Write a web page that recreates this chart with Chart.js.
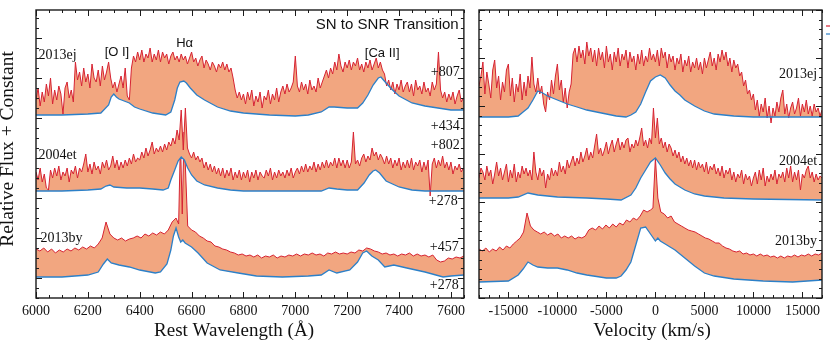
<!DOCTYPE html>
<html><head><meta charset="utf-8">
<script src="https://cdn.jsdelivr.net/npm/chart.js@4.4.1/dist/chart.umd.min.js"></script>
<style>
html,body{margin:0;padding:0;background:#fff;}
#wrap{position:relative;width:830px;height:348px;overflow:hidden;background:#fff;}
canvas{position:absolute;top:0;}
#cl{left:0;} #cr{left:470px;}
</style></head><body>
<div id="wrap"><canvas id="cl" width="470" height="348"></canvas><canvas id="cr" width="360" height="348"></canvas></div>
<script>
// ---------- LEFT PANEL: rest wavelength (Angstrom) ----------
const wavelengthTicks = [6000, 6200, 6400, 6600, 6800, 7000, 7200, 7400, 7600];
const velocityTicks = [-15000, -10000, -5000, 0, 5000, 10000, 15000];

// fine wavelength grid (8 A) for the noisy late-time spectra of 2013ej and 2004et
const waveFine = [
6000,6008,6016,6024,6032,6040,6048,6056,6064,6072,
6080,6088,6096,6104,6112,6120,6128,6136,6144,6152,
6160,6168,6176,6184,6192,6200,6208,6216,6224,6232,
6240,6248,6256,6264,6272,6280,6288,6296,6304,6312,
6320,6328,6336,6344,6352,6360,6368,6376,6384,6392,
6400,6408,6416,6424,6432,6440,6448,6456,6464,6472,
6480,6488,6496,6504,6512,6520,6528,6536,6544,6552,
6560,6568,6576,6584,6592,6600,6608,6616,6624,6632,
6640,6648,6656,6664,6672,6680,6688,6696,6704,6712,
6720,6728,6736,6744,6752,6760,6768,6776,6784,6792,
6800,6808,6816,6824,6832,6840,6848,6856,6864,6872,
6880,6888,6896,6904,6912,6920,6928,6936,6944,6952,
6960,6968,6976,6984,6992,7000,7008,7016,7024,7032,
7040,7048,7056,7064,7072,7080,7088,7096,7104,7112,
7120,7128,7136,7144,7152,7160,7168,7176,7184,7192,
7200,7208,7216,7224,7232,7240,7248,7256,7264,7272,
7280,7288,7296,7304,7312,7320,7328,7336,7344,7352,
7360,7368,7376,7384,7392,7400,7408,7416,7424,7432,
7440,7448,7456,7464,7472,7480,7488,7496,7504,7512,
7520,7528,7536,7544,7552,7560,7568,7576,7584,7592,
7600,7608,7616,7624,7632,7640,7648];
const sn2013ej_807 = [
218,230,212,226,216,234,222,240,214,228,
218,232,224,204,230,236,220,228,216,256,
238,246,232,250,236,244,230,254,240,236,
248,232,252,238,246,256,240,230,236,226,
234,242,230,250,222,218,250,262,256,266,
258,268,256,264,260,270,256,264,258,268,
256,266,260,264,254,262,266,258,262,256,
264,258,262,254,260,266,256,260,252,258,
262,250,258,254,248,256,252,246,254,250,
256,248,254,246,250,240,228,220,226,218,
224,214,226,218,228,212,222,216,226,210,
222,218,228,214,224,218,230,216,226,232,
224,234,226,230,236,262,232,226,236,228,
234,224,238,228,232,226,240,230,236,242,
248,240,250,244,256,248,264,252,246,256,
250,258,248,256,252,260,248,254,246,256,
250,258,248,254,260,250,256,248,244,232,
238,228,236,224,234,228,238,226,232,236,
226,234,222,238,228,232,224,236,226,230,
222,236,228,234,266,228,220,226,216,224,
218,226,214,222,228,216,220];
const sn2004et_802 = [
146,138,150,136,144,130,128,148,140,150,
142,152,138,146,142,150,136,148,144,152,
140,150,146,154,164,146,154,144,156,148,
152,144,156,150,158,148,152,162,150,158,
148,156,150,158,152,160,154,164,156,160,
158,166,160,170,162,168,176,164,170,166,
172,166,174,168,176,172,180,174,188,178,
208,168,210,170,164,160,166,158,162,156,
160,150,156,148,154,146,152,144,150,142,
150,140,148,142,150,138,146,140,148,138,
146,140,148,136,146,140,148,138,146,142,
140,148,142,150,138,146,140,148,142,146,
140,148,142,150,140,146,150,144,152,146,
154,146,152,148,156,146,154,148,156,150,
158,150,156,152,160,150,160,152,158,150,
158,150,156,186,154,158,152,160,164,156,
162,158,170,162,166,158,164,160,154,162,
154,160,150,158,152,160,148,156,150,158,
150,160,148,156,152,158,146,156,148,158,
122,154,160,150,158,152,162,150,156,148,
156,144,152,148,154,146,150];

// 15 A grid for the smoother 2013by late-time spectrum
const waveCoarse = [
6000,6015,6030,6045,6060,6075,6090,6105,6120,6135,
6150,6165,6180,6195,6210,6225,6240,6255,6270,6285,
6300,6315,6330,6345,6360,6375,6390,6405,6420,6435,
6450,6465,6480,6495,6510,6525,6540,6550,6557,6564,
6571,6585,6600,6615,6630,6645,6660,6675,6690,6705,
6720,6735,6750,6765,6780,6795,6810,6825,6840,6855,
6870,6885,6900,6915,6930,6945,6960,6975,6990,7005,
7020,7035,7050,7065,7080,7095,7110,7125,7140,7155,
7170,7185,7200,7215,7230,7245,7260,7275,7290,7305,
7320,7335,7350,7365,7380,7395,7410,7425,7440,7455,
7470,7485,7500,7515,7530,7545,7560,7575,7590,7605,
7620,7635,7650];
const sn2013by_457 = [
69,67,70,66,69,65,68,66,69,67,
70,68,71,69,72,70,74,80,96,84,
80,78,80,77,79,80,82,80,84,82,
85,83,86,84,88,96,100,94,178,104,
186,92,88,86,82,80,77,76,72,71,
69,68,66,65,63,64,62,63,61,63,
60,62,61,63,60,62,61,63,62,64,
62,64,63,65,63,64,62,65,64,66,
64,65,64,66,65,68,67,70,69,67,
66,64,65,63,64,62,64,63,65,62,
64,62,63,61,63,58,56,57,60,59,
61,60,62];

// earlier-epoch spectra (blue)
const sn2013ej_434_wave = [6000,6100,6200,6250,6280,6290,6300,6310,6320,6340,6360,6380,6400,6450,6500,6520,6535,6545,6555,6570,6580,6595,6620,6650,6700,6750,6800,6900,7000,7050,7100,7130,7150,7200,7240,7260,7280,7300,7320,7330,7350,7375,7400,7450,7500,7550,7600,7650];
const sn2013ej_434 = [203,203,204,205,213,221,224,221,219,217,215,211,209,205,203,206,218,230,236,237,235,230,223,218,211,207,205,203,202,203,206,211,211,210,210,215,223,233,240,241,235,228,222,215,212,210,208,208];
const sn2004et_278_wave = [6000,6100,6200,6250,6270,6285,6300,6350,6400,6450,6490,6510,6520,6535,6548,6560,6572,6585,6600,6620,6650,6700,6750,6800,6900,7000,7100,7130,7160,7200,7240,7265,7285,7300,7310,7325,7350,7400,7450,7500,7650];
const sn2004et_278 = [127,127,128,129,132,133,131,130,130,129,128,130,138,148,157,161,158,150,143,137,133,130,128,127,127,127,127,130,129,128,128,135,143,147,148,145,137,131,128,127,127];
const sn2013by_278_wave = [6000,6100,6200,6240,6260,6275,6290,6320,6360,6400,6460,6480,6505,6520,6530,6540,6550,6558,6566,6575,6600,6625,6660,6710,6780,6850,6950,7050,7100,7130,7160,7210,7240,7260,7275,7295,7320,7345,7380,7430,7500,7570,7600,7650];
const sn2013by_278 = [41,41,43,46,54,59,55,53,51,48,45,46,54,68,82,90,81,76,78,75,71,65,55,48,45,42,41,42,43,48,45,48,56,65,67,62,58,51,53,50,46,41,42,43];

// ---------- RIGHT PANEL: velocity (km/s) relative to H-alpha ----------
const velFine = [
-18000,-17800,-17600,-17400,-17200,-17000,-16800,-16600,-16400,-16200,
-16000,-15800,-15600,-15400,-15200,-15000,-14800,-14600,-14400,-14200,
-14000,-13800,-13600,-13400,-13200,-13000,-12800,-12600,-12400,-12200,
-12000,-11800,-11600,-11400,-11200,-11000,-10800,-10600,-10400,-10200,
-10000,-9800,-9600,-9400,-9200,-9000,-8800,-8600,-8400,-8200,
-8000,-7800,-7600,-7400,-7200,-7000,-6800,-6600,-6400,-6200,
-6000,-5800,-5600,-5400,-5200,-5000,-4800,-4600,-4400,-4200,
-4000,-3800,-3600,-3400,-3200,-3000,-2800,-2600,-2400,-2200,
-2000,-1800,-1600,-1400,-1200,-1000,-800,-600,-400,-200,
0,200,400,600,800,1000,1200,1400,1600,1800,
2000,2200,2400,2600,2800,3000,3200,3400,3600,3800,
4000,4200,4400,4600,4800,5000,5200,5400,5600,5800,
6000,6200,6400,6600,6800,7000,7200,7400,7600,7800,
8000,8200,8400,8600,8800,9000,9200,9400,9600,9800,
10000,10200,10400,10600,10800,11000,11200,11400,11600,11800,
12000,12200,12400,12600,12800,13000,13200,13400,13600,13800,
14000,14200,14400,14600,14800,15000,15200,15400,15600,15800,
16000,16200,16400,16600,16800,17000];
const vel2013ej_807 = [
212,222,236,204,226,214,200,228,238,210,
222,198,216,206,228,234,202,220,196,214,
206,224,198,216,202,222,210,241,214,206,
220,204,212,194,186,206,198,218,204,222,
234,208,218,196,210,190,206,214,244,250,
236,252,240,248,234,256,242,250,236,248,
232,250,238,246,230,252,236,244,228,246,
236,250,232,244,238,248,230,246,236,242,
228,244,234,248,232,242,236,250,238,244,
236,248,232,250,240,246,230,244,236,242,
228,240,234,244,226,238,232,242,226,236,
230,240,228,236,224,240,230,238,246,232,
240,228,244,236,248,238,246,232,240,226,
238,230,234,222,226,212,218,204,208,198,
204,188,198,182,194,186,200,180,192,175,
190,182,196,186,200,208,184,194,180,190,
196,184,190,200,182,194,186,198,184,192,
182,194,186,190,182,188];
const vel2004et_802 = [
120,130,126,118,132,122,128,114,124,136,
122,130,118,126,134,116,128,120,134,116,
126,120,132,124,130,122,128,118,146,126,
118,130,122,128,110,124,118,130,122,128,
122,136,126,132,124,138,130,136,142,132,
140,134,146,136,142,150,138,146,140,152,
164,144,150,142,148,156,144,152,158,146,
154,160,148,156,150,158,160,146,154,150,
158,152,160,170,152,158,150,160,154,190,
160,180,154,160,150,156,146,154,150,142,
148,140,146,136,142,134,140,132,138,130,
138,128,136,130,134,126,136,124,132,128,
134,124,130,122,132,120,128,124,130,118,
126,116,124,120,128,114,124,118,122,112,
120,126,114,128,118,130,112,122,116,124,
118,128,114,124,120,126,116,130,120,132,
116,126,118,128,108,124,120,128,132,120,
126,116,124,118,122,120];

// 350 km/s grid for the smoother 2013by late-time spectrum
const velCoarse = [
-18000,-17650,-17300,-16950,-16600,-16250,-15900,-15550,-15200,-14850,
-14500,-14150,-13800,-13450,-13100,-12750,-12400,-12050,-11700,-11350,
-11000,-10650,-10300,-9950,-9600,-9250,-8900,-8550,-8200,-7850,
-7500,-7150,-6800,-6450,-6100,-5750,-5400,-5050,-4700,-4350,
-4000,-3650,-3300,-2950,-2600,-2250,-1900,-1550,-1200,-850,
-500,-250,0,250,550,900,1250,1600,1950,2300,
2650,3000,3350,3700,4050,4400,4750,5100,5450,5800,
6150,6500,6850,7200,7550,7900,8250,8600,8950,9300,
9650,10000,10350,10700,11050,11400,11750,12100,12450,12800,
13150,13500,13850,14200,14550,14900,15250,15600,15950,16300,
16650,17000];
const vel2013by_457 = [
49,47,50,46,49,47,51,48,52,50,
54,57,60,66,85,72,68,66,64,66,
63,65,62,64,60,62,60,62,59,61,
60,62,68,70,68,72,69,73,70,74,
71,75,73,78,76,80,78,82,88,86,
88,90,140,100,86,84,80,82,76,74,
72,70,68,67,66,64,62,60,59,57,
55,55,52,50,49,47,46,47,44,45,
43,44,42,44,42,43,41,42,40,42,
40,42,41,43,41,43,42,44,42,44,
43,45];
const vel2013ej_434_v = [-18000,-15000,-14000,-13500,-13000,-12500,-12000,-11500,-11000,-10000,-9000,-8000,-7000,-6000,-5000,-4000,-3000,-2500,-2000,-1500,-1000,-500,0,500,1000,1500,2000,2500,3000,4000,5000,6000,8000,10000,17000];
const vel2013ej_434 = [181,181,182,186,190,198,207,205,202,198,194,191,188,186,184,182,181,183,186,194,206,217,221,223,220,213,207,203,198,192,187,184,182,181,181];
const vel2004et_278_v = [-18000,-15000,-14000,-13000,-12000,-10000,-7000,-5000,-3500,-2500,-2000,-1500,-1000,-500,0,500,1000,1500,2000,3000,4000,5000,7000,10000,17000];
const vel2004et_278 = [100,100,101,105,103,101,100,99,98,103,110,120,128,136,140,133,125,119,114,108,104,102,100,99,98];
const vel2013by_278_v = [-18000,-15000,-14000,-13500,-13000,-12500,-12000,-11000,-10000,-9000,-8000,-7000,-5000,-4000,-3500,-3000,-2500,-2000,-1500,-1000,-500,0,250,500,1000,1500,2000,3000,4000,5000,6000,8000,11000,14000,17000];
const vel2013by_278 = [16,17,23,29,36,33,31,30,30,28,25,23,20,20,22,28,36,53,70,71,64,57,60,57,54,51,48,40,32,25,22,19,17,16,18];

// ---------- styling ----------
const RED = 'rgb(214,34,50)';
const BLUE = 'rgb(44,128,200)';
const FILL = 'rgb(242,166,128)';
const SERIF = '"Liberation Serif", "DejaVu Serif", serif';
const SANS = '"Liberation Sans", Arial, sans-serif';
const pts = (xs, ys) => xs.map((x, i) => ({x: x, y: ys[i]}));
function pair(bx, by, rx, ry) {
  return [
    {data: pts(bx, by), borderColor: BLUE, borderWidth: 1.3, fill: false},
    {data: pts(rx, ry), borderColor: RED, borderWidth: 1, backgroundColor: FILL, fill: '-1'}
  ];
}

const frame = {
  id: 'frame',
  afterDatasetsDraw(chart, args, o) {
    const ctx = chart.ctx, a = chart.chartArea, xs = chart.scales.x, ys = chart.scales.y;
    ctx.save();
    ctx.strokeStyle = '#1a1a1a';
    ctx.lineWidth = 1;
    ctx.beginPath();
    const tick = (scale, v, len, horiz) => {
      const p = Math.round(scale.getPixelForValue(v)) + 0.5;
      if (horiz) { ctx.moveTo(p, a.bottom); ctx.lineTo(p, a.bottom - len); ctx.moveTo(p, a.top); ctx.lineTo(p, a.top + len); }
      else { ctx.moveTo(a.left, p); ctx.lineTo(a.left + len, p); ctx.moveTo(a.right, p); ctx.lineTo(a.right - len, p); }
    };
    const minor = (scale, step, horiz) => {
      for (let k = Math.ceil(scale.min / step - 1e-6); k * step <= scale.max + 1e-6; k++) tick(scale, k * step, 3, horiz);
    };
    minor(xs, o.xMinor, true);
    minor(ys, o.yMinor, false);
    xs.ticks.forEach(t => tick(xs, t.value, 6, true));
    ys.ticks.forEach(t => tick(ys, t.value, 6, false));
    ctx.stroke();
    ctx.lineWidth = 1.4;
    ctx.strokeRect(a.left, a.top, a.right - a.left, a.bottom - a.top);
    ctx.restore();
  }
};

const notes = {
  id: 'notes',
  afterDraw(chart, args, o) {
    const ctx = chart.ctx, xs = chart.scales.x, ys = chart.scales.y;
    ctx.save();
    ctx.fillStyle = '#111';
    (o.items || []).forEach(it => {
      ctx.font = it.font; ctx.textAlign = it.align; ctx.textBaseline = 'middle';
      ctx.fillText(it.text, xs.getPixelForValue(it.x), ys.getPixelForValue(it.y));
    });
    (o.titles || []).forEach(t => {
      ctx.save();
      ctx.translate(t.px, t.py);
      if (t.rot) ctx.rotate(t.rot);
      ctx.font = t.font; ctx.textAlign = 'center'; ctx.textBaseline = 'alphabetic';
      ctx.fillText(t.text, 0, 0);
      ctx.restore();
    });
    (o.stubs || []).forEach(s => {
      ctx.strokeStyle = s.color; ctx.lineWidth = 1.2;
      ctx.beginPath(); ctx.moveTo(s.x0, s.y); ctx.lineTo(s.x1, s.y); ctx.stroke();
    });
    ctx.restore();
  }
};

function options(c) {
  return {
    responsive: false, animation: false, devicePixelRatio: 1, events: [],
    layout: {padding: c.padding},
    elements: {point: {radius: 0}, line: {tension: 0}},
    plugins: {
      legend: {display: false}, tooltip: {enabled: false},
      frame: {xMinor: c.xMinor, yMinor: c.yMinor},
      notes: {items: c.items, titles: c.titles, stubs: c.stubs || []}
    },
    scales: {
      x: {type: 'linear', min: c.xMin, max: c.xMax,
          grid: {display: false, drawTicks: false}, border: {display: false},
          ticks: {autoSkip: false, maxRotation: 0, padding: 5,
                  color: '#111', font: {family: SERIF, size: 14}, callback: v => String(v)},
          afterBuildTicks: s => { s.ticks = c.xTicks.map(v => ({value: v})); },
          afterFit: s => { s.height = 50; }},
      y: {type: 'linear', min: c.yMin, max: c.yMax,
          grid: {display: false, drawTicks: false}, border: {display: false},
          ticks: {display: false, stepSize: c.yStep, includeBounds: false},
          afterFit: s => { s.width = c.yWidth; }}
    }
  };
}

const f14 = '14px ' + SERIF, s13 = '13px ' + SANS;

new Chart(document.getElementById('cl'), {
  type: 'line',
  data: {datasets: [].concat(
    pair(sn2013ej_434_wave, sn2013ej_434, waveFine, sn2013ej_807),
    pair(sn2004et_278_wave, sn2004et_278, waveFine, sn2004et_802),
    pair(sn2013by_278_wave, sn2013by_278, waveCoarse, sn2013by_457))},
  options: options({
    padding: {left: 0, top: 10, right: 3, bottom: 0},
    xMin: 6000, xMax: 7650, xTicks: wavelengthTicks, xMinor: 50,
    yMin: 20, yMax: 308, yStep: 40, yMinor: 10, yWidth: 36,
    items: [
      {text: 'SN to SNR Transition', x: 7630, y: 293, align: 'right', font: '15px ' + SANS},
      {text: 'Hα', x: 6573, y: 275, align: 'center', font: s13},
      {text: '[O I]', x: 6312, y: 266, align: 'center', font: s13},
      {text: '[Ca II]', x: 7335, y: 265, align: 'center', font: s13},
      {text: '2013ej', x: 6010, y: 263, align: 'left', font: f14},
      {text: '2004et', x: 6010, y: 163, align: 'left', font: f14},
      {text: '2013by', x: 6017, y: 80, align: 'left', font: f14},
      {text: '+807', x: 7634, y: 246, align: 'right', font: f14},
      {text: '+434', x: 7634, y: 192, align: 'right', font: f14},
      {text: '+802', x: 7634, y: 173, align: 'right', font: f14},
      {text: '+278', x: 7626, y: 117, align: 'right', font: f14},
      {text: '+457', x: 7630, y: 71, align: 'right', font: f14},
      {text: '+278', x: 7630, y: 33, align: 'right', font: f14}
    ],
    titles: [
      {text: 'Relative Flux + Constant', px: 13, py: 149, rot: -Math.PI / 2, font: '19.5px ' + SERIF},
      {text: 'Rest Wavelength (Å)', px: 234, py: 336, font: '19px ' + SERIF}
    ]
  }),
  plugins: [frame, notes]
});

new Chart(document.getElementById('cr'), {
  type: 'line',
  data: {datasets: [].concat(
    pair(vel2013ej_434_v, vel2013ej_434, velFine, vel2013ej_807),
    pair(vel2004et_278_v, vel2004et_278, velFine, vel2004et_802),
    pair(vel2013by_278_v, vel2013by_278, velCoarse, vel2013by_457))},
  options: options({
    padding: {left: 0, top: 10, right: 8, bottom: 0},
    xMin: -18000, xMax: 17000, xTicks: velocityTicks, xMinor: 1000,
    yMin: 0, yMax: 288, yStep: 48, yMinor: 9.6, yWidth: 9,
    items: [
      {text: '2013ej', x: 16500, y: 224, align: 'right', font: f14},
      {text: '2004et', x: 16500, y: 137, align: 'right', font: f14},
      {text: '2013by', x: 16500, y: 57, align: 'right', font: f14}
    ],
    titles: [
      {text: 'Velocity (km/s)', px: 182, py: 336, font: '19px ' + SERIF}
    ],
    stubs: [
      {x0: 356, x1: 360, y: 26, color: RED},
      {x0: 356, x1: 360, y: 34, color: BLUE}
    ]
  }),
  plugins: [frame, notes]
});
</script></body></html>
